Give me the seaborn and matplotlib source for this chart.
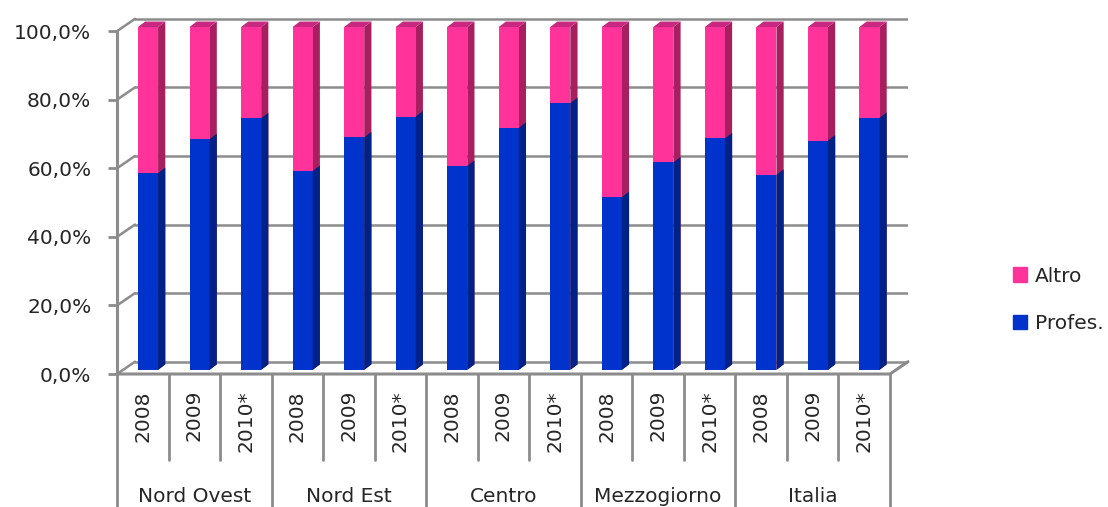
import pandas as pd
import matplotlib.pyplot as plt
import matplotlib.transforms as mtransforms
from matplotlib.patches import Polygon, Patch
import seaborn as sns

# data (share of Profes. in %, Altro is the rest)
regions = ["Nord Ovest", "Nord Est", "Centro", "Mezzogiorno", "Italia"]
years = ["2008", "2009", "2010*"]
profes = [57.4, 67.3, 73.4, 58.0, 67.8, 73.9, 59.5, 70.6, 77.8,
          50.4, 60.5, 67.5, 56.9, 66.9, 73.5]
altro = [round(100 - p, 1) for p in profes]
yticks = [0, 20, 40, 60, 80, 100]

# colours
pink, pink_side, pink_top = "#FF3399", "#A81F60", "#C8287F"
blue, blue_side = "#0033CC", "#002185"
grid_col = "#8C8C8C"

sns.set_style("white")
plt.rcParams["font.family"] = ["DejaVu Sans"]
fs = 14.5

df = pd.DataFrame({"slot": [f"{r} {y}" for r in regions for y in years],
                   "Profes.": profes, "Altro": altro})
df["Totale"] = df["Profes."] + df["Altro"]

fig = plt.figure(figsize=(11.08, 5.07), dpi=100)
ax = fig.add_axes([0.1056, 0.2623, 0.7139, 0.7047])

# stacked bars: full height pink first, blue on top of it
sns.barplot(data=df, x="slot", y="Totale", color=pink, saturation=1,
            width=0.39, errorbar=None, ax=ax, zorder=3, linewidth=0)
sns.barplot(data=df, x="slot", y="Profes.", color=blue, saturation=1,
            width=0.39, errorbar=None, ax=ax, zorder=3, linewidth=0)

# fake 3d faces on the bars
sd, sdy = 0.14, 1.6
n = len(df)
for i, bar in enumerate(ax.patches):
    x0, y0 = bar.get_x(), bar.get_y()
    w, h = bar.get_width(), bar.get_height()
    side_c = pink_side if i < n else blue_side
    z = 2.9 if i < n else 3.1
    ax.add_patch(Polygon([(x0 + w, y0), (x0 + w + sd, y0 + sdy),
                          (x0 + w + sd, y0 + h + sdy), (x0 + w, y0 + h)],
                         closed=True, color=side_c, lw=0, zorder=z))
    if i < n:
        ax.add_patch(Polygon([(x0, y0 + h), (x0 + sd, y0 + h + sdy),
                              (x0 + w + sd, y0 + h + sdy), (x0 + w, y0 + h)],
                             closed=True, color=pink_top, lw=0, zorder=z))

# walls / floor
front_dy, back_dy, depth = -1.2, 2.4, 0.35
xl = -0.602
xr = xl + n + depth
ax.set_xlim(xl, xr)
ax.set_ylim(-1.17, 103.0)
lw = 1.8
for v in yticks:
    ax.plot([xl + depth, xr], [v + back_dy] * 2, color=grid_col, lw=lw, zorder=1)
    ax.plot([xl, xl + depth], [v + front_dy, v + back_dy], color=grid_col, lw=lw, zorder=1)
ax.plot([xl, xl], [front_dy, 100 + front_dy], color=grid_col, lw=2.2, zorder=4, clip_on=False)
ax.plot([xl, xl + n, xr], [front_dy, front_dy, back_dy], color=grid_col, lw=2.2,
        zorder=4, clip_on=False)

for s in ax.spines.values():
    s.set_visible(False)
ax.set_yticks([v + front_dy for v in yticks])
ax.set_yticklabels([f"{v},0%" for v in yticks], fontsize=fs)
ax.tick_params(axis="y", length=6.5, width=2, color=grid_col, pad=12, left=True)
ax.set_xticks([])
ax.set_xlabel("")
ax.set_ylabel("")

# two level category axis
trans = mtransforms.blended_transform_factory(ax.transData, ax.transAxes)
for i in range(n):
    ax.text(xl + 0.5 + i, -0.045, years[i % 3], rotation=90, ha="center",
            va="top", fontsize=fs, transform=trans)
for k in range(n + 1):
    y_end = -0.372 if k % 3 == 0 else -0.2407
    ax.plot([xl + k, xl + k], [0, y_end], color=grid_col, lw=2,
            transform=trans, clip_on=False)
for g, r in enumerate(regions):
    ax.text(xl + 1.5 + 3 * g, -0.3415, r, ha="center", va="center",
            fontsize=fs, transform=trans)

fig.legend(handles=[Patch(color=pink, label="Altro"), Patch(color=blue, label="Profes.")],
           loc="center left", bbox_to_anchor=(0.9143, 0.409), frameon=False,
           handlelength=0.7, handleheight=0.7, handletextpad=0.4, labelspacing=1.4,
           borderpad=0, borderaxespad=0, fontsize=fs)

fig.savefig("out.png", dpi=100)
